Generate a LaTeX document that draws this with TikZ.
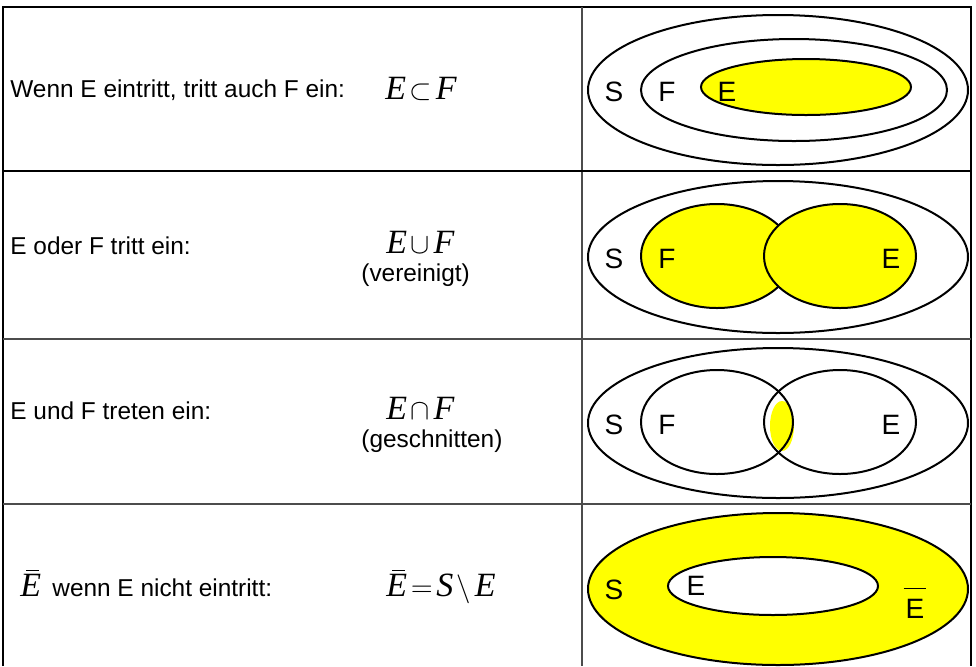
\documentclass[tikz,border=0pt]{standalone}
\usepackage{fontspec}
\setmainfont{Liberation Sans}
\newfontfamily\tnr{Liberation Serif}
\usetikzlibrary{positioning}
\tikzset{>=latex}
\definecolor{venngelb}{RGB}{255,255,0}
\newcommand{\mv}[1]{{\tnr\itshape #1}}
\newcommand{\mop}[1]{\hspace{1.8pt}{\fontsize{14.5}{16}\selectfont$#1$}\hspace{1.8pt}}
\newcommand{\ebar}{\rlap{\hspace{3pt}\raisebox{12.6pt}{\rule{6.5pt}{0.6pt}}}\mv{E}}
\tikzstyle{frm} = [line width=0.75pt, draw=black!70]
\tikzstyle{menge} = [line width=1pt, draw=black]
\tikzstyle{txt} = [anchor=base west, inner sep=0pt, font=\fontsize{12.2}{14}\selectfont]
\tikzstyle{mth} = [anchor=base west, inner sep=0pt, font=\fontsize{17}{19}\selectfont]
\tikzstyle{lbl} = [inner sep=0pt, font=\fontsize{14}{16}\selectfont]

\begin{document}
\begin{tikzpicture}[x=0.5pt, y=-0.5pt]
\useasboundingbox (0, 0) rectangle (976, 666);

\coordinate (TL) at (3, 7);
\coordinate (TR) at (971, 7);
\coordinate (BL) at (3, 666);
\coordinate (BR) at (971, 666);
\coordinate (CT) at (582, 7);
\coordinate (CB) at (582, 666);
\coordinate (R1l) at (3, 171);
\coordinate (R1r) at (971, 171);
\coordinate (R2l) at (3, 339);
\coordinate (R2r) at (971, 339);
\coordinate (R3l) at (3, 504);
\coordinate (R3r) at (971, 504);

\draw [frm, draw=black] (BL) -- (TL) -- (TR) -- (BR);
\draw [frm] (CT) -- (CB);
\draw [frm, draw=black] (R1l) -- (R1r);
\draw [frm] (R2l) -- (R2r);
\draw [frm] (R3l) -- (R3r);

\node [txt] (T1) at (10, 97) {Wenn E eintritt, tritt auch F ein:};
\node [mth] (M1) at (385, 99) {\mv{E}\mop{\subset}\mv{F}};
\node [txt] (T2) at (10, 254) {E oder F tritt ein:};
\node [mth] (M2) at (386, 253) {\mv{E}\mop{\cup}\mv{F}};
\node [txt] (U2) at (361, 281) {(vereinigt)};
\node [txt] (T3) at (10, 419) {E und F treten ein:};
\node [mth] (M3) at (386, 419) {\mv{E}\mop{\cap}\mv{F}};
\node [txt] (U3) at (361, 447) {(geschnitten)};
\node [mth] (B4) at (20, 596) {\ebar};
\node [txt] (T4) at (52, 596) {wenn E nicht eintritt:};
\node [mth] (M4) at (386, 596) {\ebar\mop{=}\mv{S}\mop{\setminus}\mv{E}};

\draw [menge] (778, 90) ellipse [x radius=190, y radius=75];
\draw [menge] (794, 90) ellipse [x radius=153, y radius=51];
\draw [menge, fill=venngelb] (806, 87) ellipse [x radius=105, y radius=28];
\node [lbl] (S1) at (614, 92) {S};
\node [lbl] (F1) at (667, 92) {F};
\node [lbl] (E1) at (727, 92) {E};

\draw [menge] (778, 257) ellipse [x radius=190, y radius=76];
\draw [menge, fill=venngelb] (717, 256) ellipse [x radius=76, y radius=52];
\draw [menge, fill=venngelb] (840, 256) ellipse [x radius=76, y radius=52];
\node [lbl] (S2) at (614, 259) {S};
\node [lbl] (F2) at (667, 259) {F};
\node [lbl] (E2) at (891, 259) {E};

\draw [menge] (778, 423) ellipse [x radius=190, y radius=75];
\fill [venngelb] (782, 426) ellipse [x radius=12, y radius=25];
\draw [menge] (717, 422) ellipse [x radius=76, y radius=52];
\draw [menge] (840, 422) ellipse [x radius=76, y radius=52];
\node [lbl] (S3) at (614, 425) {S};
\node [lbl] (F3) at (667, 425) {F};
\node [lbl] (E3) at (891, 425) {E};

\draw [menge, fill=venngelb] (778, 589) ellipse [x radius=190, y radius=76];
\draw [menge, fill=white] (773, 586) ellipse [x radius=105, y radius=29];
\node [lbl] (S4) at (614, 590) {S};
\node [lbl] (E4) at (696, 586) {E};
\node [lbl, anchor=base] (N4) at (915, 618) {$\overline{\rule{0pt}{13.5pt}\hspace{1pt}\mbox{E}\hspace{1pt}}$};
\end{tikzpicture}
\end{document}
